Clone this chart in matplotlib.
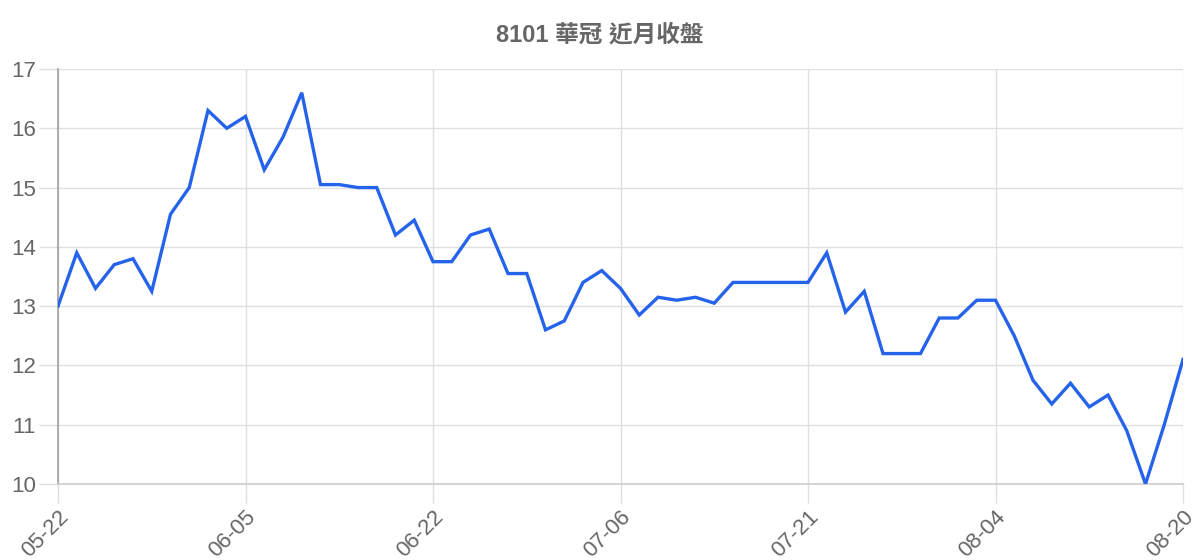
import matplotlib
matplotlib.use("Agg")
import matplotlib.pyplot as plt

plt.rcParams['font.family'] = ['Liberation Sans', 'Noto Sans CJK TC', 'DejaVu Sans']

# 近月收盤 (61 trading days)
close = [
    13.0, 13.9, 13.3, 13.7, 13.8, 13.25, 14.55, 15.0, 16.3, 16.0,
    16.2, 15.3, 15.85, 16.6, 15.05, 15.05, 15.0, 15.0, 14.2, 14.45,
    13.75, 13.75, 14.2, 14.3, 13.55, 13.55, 12.6, 12.75, 13.4, 13.6,
    13.3, 12.85, 13.15, 13.1, 13.15, 13.05, 13.4, 13.4, 13.4, 13.4,
    13.4, 13.9, 12.9, 13.25, 12.2, 12.2, 12.2, 12.8, 12.8, 13.1,
    13.1, 12.5, 11.75, 11.35, 11.7, 11.3, 11.5, 10.9, 10.0, 11.0,
    12.1,
]
tick_labels = ['05-22', '06-05', '06-22', '07-06', '07-21', '08-04', '08-20']
tick_pos = list(range(0, len(close), 10))
title = '8101 華冠 近月收盤'

fig = plt.figure(figsize=(12, 5.6), dpi=100)
ax = fig.add_axes([58 / 1200, 1 - 484 / 560, (1183 - 58) / 1200, (484 - 69) / 560])

ax.plot(range(len(close)), close, color='#2563eb', lw=2.4, solid_joinstyle='miter', zorder=3)

ax.set_xlim(0, len(close) - 1)
ax.set_ylim(10, 17)
ax.set_xticks(tick_pos)
ax.set_xticklabels(tick_labels, rotation=45, ha='right', va='top', rotation_mode='anchor')
ax.set_yticks(range(10, 18))

ax.grid(True, color='#e0e0e0', lw=1)
ax.set_axisbelow(True)
for s in ['top', 'right']:
    ax.spines[s].set_visible(False)
ax.spines['left'].set_color('#a0a0a0')
ax.spines['left'].set_linewidth(1.2)
ax.spines['bottom'].set_color('#cccccc')
ax.spines['bottom'].set_linewidth(1.2)
ax.tick_params(axis='both', length=14, width=1, color='#e0e0e0', labelsize=16, labelcolor='#666666', pad=2)

fig.text(0.5, 1 - 35 / 560, title, ha='center', va='center', fontsize=17, fontweight='bold', color='#666666',
         family=['Liberation Sans', 'Noto Sans CJK TC'])

fig.savefig('out.png', dpi=100)
